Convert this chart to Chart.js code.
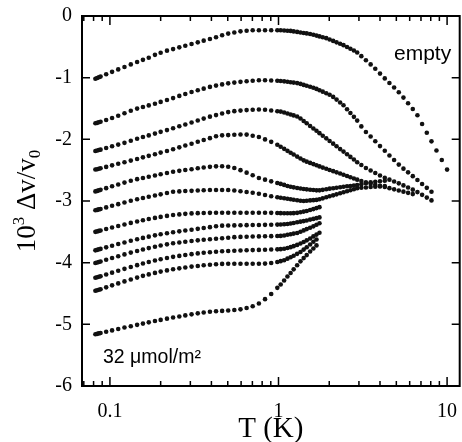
<!DOCTYPE html>
<html>
<head>
<meta charset="utf-8">
<script src="https://cdn.jsdelivr.net/npm/chart.js@4.4.1/dist/chart.umd.min.js"></script>
<style>
  html, body { margin: 0; padding: 0; background: #fff; }
  #wrap { width: 462px; height: 442px; }
</style>
</head>
<body>
<div id="wrap"><canvas id="c" width="462" height="442"></canvas></div>
<script>
// Temperatures (K) of the measurement sweeps, shared by every coverage run.
const T_GRID = [
  0.082, 0.084, 0.086, 0.088, 0.095, 0.103, 0.112, 0.122, 0.133, 0.145,
  0.157, 0.170, 0.185, 0.200, 0.218, 0.237, 0.258, 0.280, 0.305, 0.332,
  0.360, 0.392, 0.426, 0.463, 0.503, 0.547, 0.595, 0.647, 0.703, 0.765,
  0.832, 0.905, 0.984, 1.03, 1.08, 1.13, 1.18, 1.23, 1.29, 1.35,
  1.41, 1.47, 1.54, 1.61, 1.68, 1.75, 1.83, 1.92, 2.01, 2.11,
  2.21, 2.32, 2.43, 2.55, 2.67, 2.80, 2.93, 3.10, 3.30, 3.52,
  3.75, 4.00, 4.27, 4.55, 4.85, 5.17, 5.51, 5.87, 6.26, 6.67,
  7.11, 7.58, 8.08, 8.65, 9.30, 10.0
];

// 10^3 dv/v0 for each run, from the empty cell down to 32 umol/m^2.
// Each run covers the first N temperatures of T_GRID.
const DV_EMPTY = [
  -1.017, -1.005, -0.993, -0.983, -0.945, -0.906, -0.866, -0.826, -0.785, -0.747,
  -0.711, -0.676, -0.630, -0.596, -0.562, -0.537, -0.508, -0.482, -0.454, -0.427,
  -0.400, -0.374, -0.345, -0.313, -0.285, -0.267, -0.249, -0.240, -0.231, -0.230,
  -0.230, -0.230, -0.230, -0.231, -0.234, -0.238, -0.242, -0.250, -0.258, -0.267,
  -0.275, -0.282, -0.291, -0.305, -0.318, -0.331, -0.344, -0.359, -0.381, -0.404,
  -0.427, -0.451, -0.473, -0.502, -0.530, -0.559, -0.592, -0.651, -0.717, -0.785,
  -0.856, -0.934, -1.012, -1.087, -1.160, -1.236, -1.323, -1.416, -1.509, -1.610,
  -1.751, -1.893, -2.033, -2.180, -2.336, -2.491
];
const DV_RUN2 = [
  -1.740, -1.733, -1.723, -1.715, -1.686, -1.655, -1.618, -1.578, -1.536, -1.502,
  -1.476, -1.450, -1.422, -1.393, -1.362, -1.331, -1.296, -1.265, -1.232, -1.204,
  -1.178, -1.150, -1.129, -1.109, -1.092, -1.080, -1.068, -1.057, -1.049, -1.043,
  -1.042, -1.047, -1.051, -1.054, -1.060, -1.067, -1.074, -1.080, -1.088, -1.101,
  -1.117, -1.131, -1.148, -1.163, -1.182, -1.204, -1.227, -1.253, -1.277, -1.312,
  -1.356, -1.402, -1.447, -1.512, -1.572, -1.635, -1.696, -1.790, -1.880, -1.955,
  -2.030, -2.110, -2.185, -2.262, -2.335, -2.410, -2.475, -2.535, -2.597, -2.660,
  -2.724, -2.787, -2.850
];
const DV_RUN3 = [
  -2.190, -2.182, -2.174, -2.167, -2.141, -2.113, -2.085, -2.057, -2.022, -1.991,
  -1.963, -1.936, -1.907, -1.879, -1.850, -1.821, -1.789, -1.759, -1.726, -1.694,
  -1.664, -1.632, -1.607, -1.582, -1.558, -1.543, -1.534, -1.526, -1.520, -1.515,
  -1.520, -1.532, -1.544, -1.550, -1.565, -1.581, -1.597, -1.612, -1.629, -1.663,
  -1.703, -1.740, -1.783, -1.824, -1.862, -1.900, -1.941, -1.984, -2.027, -2.070,
  -2.113, -2.158, -2.199, -2.243, -2.285, -2.328, -2.372, -2.416, -2.465, -2.506,
  -2.546, -2.587, -2.623, -2.654, -2.684, -2.714, -2.747, -2.782, -2.816, -2.856,
  -2.900, -2.945, -2.990
];
const DV_RUN4 = [
  -2.490, -2.484, -2.476, -2.470, -2.447, -2.422, -2.397, -2.371, -2.345, -2.318,
  -2.292, -2.268, -2.241, -2.215, -2.188, -2.161, -2.130, -2.101, -2.071, -2.040,
  -2.012, -1.981, -1.949, -1.935, -1.931, -1.926, -1.922, -1.923, -1.941, -1.962,
  -2.001, -2.041, -2.088, -2.121, -2.154, -2.187, -2.217, -2.247, -2.280, -2.311,
  -2.341, -2.362, -2.382, -2.402, -2.420, -2.439, -2.458, -2.478, -2.497, -2.516,
  -2.535, -2.554, -2.574, -2.595, -2.614, -2.635, -2.654, -2.675, -2.698, -2.719,
  -2.738, -2.755, -2.773, -2.792, -2.811, -2.830, -2.848, -2.868, -2.888
];
const DV_RUN5 = [
  -2.844, -2.836, -2.827, -2.819, -2.792, -2.762, -2.732, -2.702, -2.671, -2.646,
  -2.626, -2.607, -2.586, -2.566, -2.546, -2.525, -2.511, -2.498, -2.484, -2.470,
  -2.457, -2.446, -2.438, -2.437, -2.445, -2.465, -2.500, -2.540, -2.582, -2.626,
  -2.654, -2.681, -2.707, -2.723, -2.739, -2.756, -2.770, -2.779, -2.789, -2.798,
  -2.806, -2.811, -2.817, -2.822, -2.827, -2.827, -2.819, -2.810, -2.800, -2.793,
  -2.785, -2.777, -2.770, -2.762, -2.756, -2.748, -2.741, -2.728, -2.713, -2.697,
  -2.688, -2.680, -2.672
];
const DV_RUN6 = [
  -3.151, -3.144, -3.136, -3.129, -3.104, -3.078, -3.051, -3.024, -2.995, -2.971,
  -2.951, -2.932, -2.911, -2.892, -2.871, -2.849, -2.844, -2.839, -2.835, -2.830,
  -2.826, -2.821, -2.821, -2.821, -2.821, -2.830, -2.843, -2.855, -2.867, -2.883,
  -2.903, -2.924, -2.940, -2.948, -2.956, -2.964, -2.972, -2.979, -2.987, -2.995,
  -2.999, -2.995, -2.990, -2.986, -2.982, -2.972, -2.957, -2.940, -2.924, -2.908,
  -2.892, -2.874, -2.858, -2.841, -2.826, -2.809, -2.792, -2.785, -2.780, -2.774,
  -2.769, -2.763, -2.758
];
const DV_RUN7 = [
  -3.500, -3.493, -3.485, -3.478, -3.455, -3.430, -3.405, -3.380, -3.355, -3.332,
  -3.312, -3.293, -3.274, -3.258, -3.242, -3.228, -3.217, -3.208, -3.201, -3.197,
  -3.194, -3.192, -3.190, -3.190, -3.190, -3.190, -3.190, -3.190, -3.190, -3.190,
  -3.190, -3.192, -3.195, -3.197, -3.198, -3.199, -3.199, -3.197, -3.192, -3.183,
  -3.172, -3.161, -3.147, -3.131, -3.115, -3.100
];
const DV_RUN8 = [
  -3.800, -3.792, -3.784, -3.777, -3.752, -3.725, -3.698, -3.672, -3.645, -3.620,
  -3.598, -3.578, -3.557, -3.540, -3.523, -3.507, -3.492, -3.478, -3.466, -3.452,
  -3.438, -3.424, -3.410, -3.400, -3.398, -3.396, -3.394, -3.392, -3.390, -3.389,
  -3.387, -3.386, -3.383, -3.381, -3.378, -3.372, -3.365, -3.356, -3.345, -3.335,
  -3.326, -3.315, -3.302, -3.290, -3.278, -3.266
];
const DV_RUN9 = [
  -4.005, -3.997, -3.988, -3.980, -3.953, -3.924, -3.895, -3.866, -3.837, -3.810,
  -3.786, -3.764, -3.742, -3.722, -3.703, -3.686, -3.672, -3.660, -3.648, -3.638,
  -3.629, -3.620, -3.612, -3.605, -3.595, -3.586, -3.582, -3.579, -3.576, -3.574,
  -3.572, -3.570, -3.568, -3.566, -3.559, -3.548, -3.538, -3.529, -3.518, -3.498,
  -3.477, -3.456, -3.434, -3.411, -3.386, -3.360
];
const DV_RUN10 = [
  -4.245, -4.237, -4.228, -4.220, -4.192, -4.162, -4.131, -4.100, -4.070, -4.040,
  -4.013, -3.990, -3.966, -3.945, -3.925, -3.906, -3.890, -3.876, -3.862, -3.850,
  -3.840, -3.830, -3.823, -3.816, -3.811, -3.806, -3.802, -3.799, -3.796, -3.793,
  -3.790, -3.787, -3.784, -3.781, -3.775, -3.762, -3.748, -3.732, -3.712, -3.690,
  -3.665, -3.638, -3.607, -3.574, -3.545, -3.515
];
const DV_RUN11 = [
  -4.455, -4.447, -4.438, -4.430, -4.400, -4.368, -4.336, -4.304, -4.272, -4.242,
  -4.214, -4.190, -4.166, -4.145, -4.125, -4.107, -4.092, -4.078, -4.064, -4.053,
  -4.043, -4.034, -4.026, -4.020, -4.017, -4.017, -4.017, -4.017, -4.017, -4.017,
  -4.015, -4.005, -3.990, -3.975, -3.960, -3.935, -3.912, -3.887, -3.857, -3.826,
  -3.788, -3.750, -3.705, -3.660, -3.625
];
const DV_32UMOL = [
  -5.160, -5.154, -5.147, -5.140, -5.120, -5.098, -5.075, -5.052, -5.030, -5.008,
  -4.988, -4.968, -4.947, -4.928, -4.908, -4.890, -4.872, -4.855, -4.838, -4.822,
  -4.808, -4.795, -4.787, -4.782, -4.776, -4.767, -4.757, -4.735, -4.706, -4.662,
  -4.592, -4.507, -4.408, -4.353, -4.289, -4.225, -4.167, -4.108, -4.041, -3.979,
  -3.926, -3.877, -3.820, -3.770, -3.720
];

const RUNS = [DV_EMPTY, DV_RUN2, DV_RUN3, DV_RUN4, DV_RUN5, DV_RUN6,
              DV_RUN7, DV_RUN8, DV_RUN9, DV_RUN10, DV_RUN11, DV_32UMOL];

const X_TICKS = [0.1, 1, 10];
const X_TICK_LABELS = ['0.1', '1', '10'];
const Y_TICKS = [0, -1, -2, -3, -4, -5, -6];
const X_RANGE = [0.0683, 11.88];
const Y_RANGE = [-6, 0];

const SERIF = '"Liberation Serif", "Times New Roman", serif';
const SANS = '"Liberation Sans", Arial, sans-serif';

// Box frame with inward ticks, the rotated y title and the two in-plot notes.
const framePlugin = {
  id: 'framePlugin',
  afterDraw(chart) {
    const { ctx, chartArea: a, scales: { x, y } } = chart;
    ctx.save();
    ctx.strokeStyle = '#000';
    ctx.lineWidth = 2;
    ctx.strokeRect(a.left, a.top, a.right - a.left, a.bottom - a.top);

    ctx.lineWidth = 1.5;
    ctx.beginPath();
    Y_TICKS.forEach(v => {
      const py = y.getPixelForValue(v);
      ctx.moveTo(a.left, py); ctx.lineTo(a.left + 8, py);
      ctx.moveTo(a.right, py); ctx.lineTo(a.right - 8, py);
    });
    [0.01, 0.1, 1, 10].forEach(d => {
      for (let m = 1; m <= 9; m++) {
        const v = d * m;
        if (v < x.min || v > x.max) continue;
        const px = x.getPixelForValue(v);
        const len = m === 1 ? 9 : 5;
        ctx.moveTo(px, a.bottom); ctx.lineTo(px, a.bottom - len);
        ctx.moveTo(px, a.top); ctx.lineTo(px, a.top + len);
      }
    });
    ctx.stroke();

    // y-axis title: 10^3 Δv/v_0, read bottom to top
    ctx.fillStyle = '#000';
    ctx.translate(35, 201);
    ctx.rotate(-Math.PI / 2);
    const big = '27px ' + SERIF, small = '17px ' + SERIF;
    const parts = [
      { t: '10', f: big, dy: 0 },
      { t: '3', f: small, dy: -11 },
      { t: ' Δv/v', f: big, dy: 0 },
      { t: '0', f: small, dy: 5 }
    ];
    let total = 0;
    parts.forEach(p => { ctx.font = p.f; p.w = ctx.measureText(p.t).width; total += p.w; });
    let cx = -total / 2;
    ctx.textBaseline = 'alphabetic';
    ctx.textAlign = 'left';
    parts.forEach(p => { ctx.font = p.f; ctx.fillText(p.t, cx, p.dy); cx += p.w; });
    ctx.restore();

    ctx.save();
    ctx.fillStyle = '#000';
    ctx.font = '21px ' + SANS;
    ctx.textBaseline = 'alphabetic';
    ctx.textAlign = 'left';
    ctx.fillText('empty', 394, 60);
    ctx.font = '19.5px ' + SANS;
    ctx.fillText('32 μmol/m²', 103, 363);
    ctx.restore();
  }
};

const datasets = RUNS.map((vals, k) => ({
  label: 'run ' + (k + 1),
  data: vals.map((v, i) => ({ x: T_GRID[i], y: v })),
  showLine: false,
  pointRadius: 2.3,
  pointHoverRadius: 2.3,
  pointBorderWidth: 0,
  pointBackgroundColor: '#111',
  pointBorderColor: '#111'
}));

new Chart(document.getElementById('c'), {
  type: 'scatter',
  data: { datasets },
  options: {
    responsive: false,
    animation: false,
    devicePixelRatio: 1,
    layout: { padding: { top: 16, right: 2, left: 0, bottom: 0 } },
    plugins: { legend: { display: false }, tooltip: { enabled: false } },
    scales: {
      x: {
        type: 'logarithmic',
        min: X_RANGE[0],
        max: X_RANGE[1],
        afterBuildTicks: s => { s.ticks = X_TICKS.map(v => ({ value: v })); },
        afterFit: s => { s.height = 56; s.paddingLeft = 0; s.paddingRight = 0; },
        grid: { display: false, drawTicks: false },
        border: { display: false },
        ticks: {
          autoSkip: false, maxRotation: 0, padding: 14,
          color: '#000',
          font: { family: SERIF, size: 20 },
          callback: v => X_TICK_LABELS[X_TICKS.indexOf(v)]
        },
        title: {
          display: true, text: 'T (K)', color: '#000',
          font: { family: SERIF, size: 29, lineHeight: 0.85 },
          padding: { top: 0, bottom: 0 }
        }
      },
      y: {
        min: Y_RANGE[0],
        max: Y_RANGE[1],
        afterBuildTicks: s => { s.ticks = Y_TICKS.map(v => ({ value: v })); },
        afterFit: s => { s.width = 82; s.paddingTop = 0; s.paddingBottom = 0; },
        grid: { display: false, drawTicks: false },
        border: { display: false },
        ticks: {
          padding: 10, color: '#000',
          font: { family: SERIF, size: 20 },
          callback: v => String(v)
        }
      }
    }
  },
  plugins: [framePlugin]
});
</script>
</body>
</html>
